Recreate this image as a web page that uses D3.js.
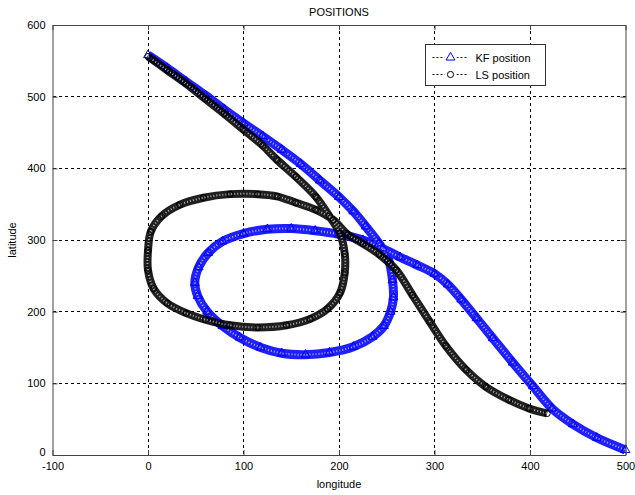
<!DOCTYPE html>
<html>
<head>
<meta charset="utf-8">
<script src="https://cdn.jsdelivr.net/npm/d3@7"></script>
<style>
  body { margin: 0; background: #fff; }
  text { font-family: "Liberation Sans", Arial, sans-serif; font-size: 11px; fill: #000; }
</style>
</head>
<body>
<div id="chart"></div>
<script>
// values
const kfLon = [0, 20, 40, 60, 80, 100, 120, 140, 160, 180, 200, 215, 228, 242, 252, 256, 257, 254, 247, 235,
  215, 190, 165, 140, 118, 96, 78, 62, 52, 49, 53, 63, 78, 100, 125, 150, 175, 200, 225, 246,
  264, 282, 300, 314, 328, 344, 361, 382, 403, 423, 445, 470, 500];
const kfLat = [558, 540, 521, 502, 482, 463, 445, 426, 406, 383, 360, 340, 319, 295, 272, 244, 220, 200, 180, 165,
  151, 143, 140, 142, 150, 164, 180, 200, 222, 240, 262, 282, 298, 309, 315, 316, 313, 308, 300, 288,
  276, 265, 253, 238, 217, 191, 163, 129, 96, 65, 43, 24, 7];

const lsLon = [0, 20, 40, 60, 80, 100, 120, 135, 155, 176, 190, 201, 206, 206, 201, 188, 170, 145, 115, 86,
  60, 40, 20, 6, 0, 0, 3, 14, 33, 58, 86, 115, 135, 155, 176, 194, 208, 225, 242, 260,
  277, 295, 312, 333, 354, 378, 399, 418];
const lsLat = [556, 537, 518, 497, 476, 454, 432, 412, 388, 360, 333, 309, 281, 254, 226, 204, 190, 181, 178, 181,
  189, 198, 212, 232, 258, 285, 312, 333, 349, 359, 364, 364, 361, 352, 342, 328, 309, 295, 280, 258,
  223, 186, 152, 119, 95, 77, 65, 58];

const xTicks = [-100, 0, 100, 200, 300, 400, 500];
const yTicks = [0, 100, 200, 300, 400, 500, 600];

const seriesNames = ["KF position", "LS position"];
const seriesColors = ["#0000ff", "#000000"];

const width = 635, height = 495;
const margin = {top: 25, right: 9.5, bottom: 40, left: 52.5};

const kf = kfLon.map((d, i) => ({lon: d, lat: kfLat[i]}));
const ls = lsLon.map((d, i) => ({lon: d, lat: lsLat[i]}));

const svg = d3.select("#chart").append("svg")
  .attr("width", width)
  .attr("height", height);

const xScale = d3.scaleLinear()
  .domain([-100, 500])
  .range([margin.left, width - margin.right]);
const yScale = d3.scaleLinear()
  .domain([0, 600])
  .range([height - margin.bottom, margin.top]);

// grid
const grid = svg.append("g")
  .attr("stroke", "#000")
  .attr("stroke-dasharray", "3,3")
  .attr("shape-rendering", "crispEdges");
grid.selectAll(".vgrid")
  .data(xTicks.slice(1, -1))
  .join("line")
    .attr("class", "vgrid")
    .attr("x1", d => xScale(d)).attr("x2", d => xScale(d))
    .attr("y1", margin.top).attr("y2", height - margin.bottom);
grid.selectAll(".hgrid")
  .data(yTicks.slice(1, -1))
  .join("line")
    .attr("class", "hgrid")
    .attr("y1", d => yScale(d)).attr("y2", d => yScale(d))
    .attr("x1", margin.left).attr("x2", width - margin.right);

const line = d3.line()
  .curve(d3.curveCatmullRom.alpha(0.5))
  .x(d => xScale(d.lon))
  .y(d => yScale(d.lat));

const triangle = d3.symbol().type(d3.symbolTriangle).size(34);
const circle = d3.symbol().type(d3.symbolCircle).size(30);

addSeries = (data, color, bandWidth, sym) => {
  const g = svg.append("g");
  // dense marker band
  g.append("path")
    .attr("d", line(data))
    .attr("fill", "none")
    .attr("stroke", color)
    .attr("stroke-width", bandWidth)
    .attr("stroke-linejoin", "round")
    .attr("stroke-opacity", 0.88);
  g.append("path")
    .attr("d", line(data))
    .attr("fill", "none")
    .attr("stroke", "#fff")
    .attr("stroke-width", 2)
    .attr("stroke-dasharray", "1,2")
    .attr("stroke-opacity", 0.65);
  g.selectAll("path.mk")
    .data(data)
    .join("path")
      .attr("class", "mk")
      .attr("transform", d => `translate(${xScale(d.lon)},${yScale(d.lat)})`)
      .attr("d", sym)
      .attr("fill", "none")
      .attr("stroke", color)
      .attr("stroke-width", 1);
}

addSeries(kf, seriesColors[0], 9, triangle);
addSeries(ls, seriesColors[1], 8, circle);

// axes box
const plain = d => String(d);
const xAxisB = d3.axisBottom(xScale).tickValues(xTicks).tickFormat(plain).tickSizeInner(-5).tickSizeOuter(0).tickPadding(9);
const xAxisT = d3.axisTop(xScale).tickValues(xTicks).tickSizeInner(-5).tickSizeOuter(0).tickFormat("");
const yAxisL = d3.axisLeft(yScale).tickValues(yTicks).tickFormat(plain).tickSizeInner(-5).tickSizeOuter(0).tickPadding(8);
const yAxisR = d3.axisRight(yScale).tickValues(yTicks).tickSizeInner(-5).tickSizeOuter(0).tickFormat("");

const gX = svg.append("g").attr("transform", `translate(0,${height - margin.bottom})`).call(xAxisB);
svg.append("g").attr("transform", `translate(0,${margin.top})`).call(xAxisT);
const gY = svg.append("g").attr("transform", `translate(${margin.left},0)`).call(yAxisL);
svg.append("g").attr("transform", `translate(${width - margin.right},0)`).call(yAxisR);

svg.selectAll(".domain").attr("stroke", "#444");
svg.selectAll(".tick line").attr("stroke", "#444");
svg.selectAll(".tick text")
  .attr("font-family", "Liberation Sans, Arial, sans-serif")
  .attr("font-size", 11)
  .attr("fill", "#222");
gX.selectAll(".tick text").attr("dy", "0.55em");
gY.selectAll(".tick text").attr("dx", "1px");
// MATLAB lifts the y=0 label so it clears the -100 label
gY.selectAll(".tick text").filter(d => d === 0).attr("dy", "0.05em");

// labels
svg.append("text")
  .attr("x", (margin.left + width - margin.right) / 2)
  .attr("y", 16)
  .attr("text-anchor", "middle")
  .text("POSITIONS");
svg.append("text")
  .attr("x", (margin.left + width - margin.right) / 2)
  .attr("y", 488)
  .attr("text-anchor", "middle")
  .text("longitude");
svg.append("text")
  .attr("transform", `translate(16,${(margin.top + height - margin.bottom) / 2}) rotate(-90)`)
  .attr("text-anchor", "middle")
  .text("latitude");

// legend
const legend = svg.append("g").attr("transform", "translate(425.5,44.5)");
legend.append("rect")
  .attr("width", 120)
  .attr("height", 41)
  .attr("fill", "#fff")
  .attr("stroke", "#333");
const syms = [triangle, circle];
seriesNames.forEach((name, i) => {
  const y = 13 + i * 17;
  legend.append("line")
    .attr("x1", 7).attr("x2", 43)
    .attr("y1", y).attr("y2", y)
    .attr("stroke", seriesColors[i])
    .attr("stroke-dasharray", "2,2");
  legend.append("rect")
    .attr("x", 19).attr("y", y - 6)
    .attr("width", 12).attr("height", 12)
    .attr("fill", "#fff");
  legend.append("path")
    .attr("transform", `translate(25,${y})`)
    .attr("d", syms[i])
    .attr("fill", "none")
    .attr("stroke", seriesColors[i]);
  legend.append("text")
    .attr("x", 50)
    .attr("y", y + 4)
    .text(name);
});
</script>
</body>
</html>
